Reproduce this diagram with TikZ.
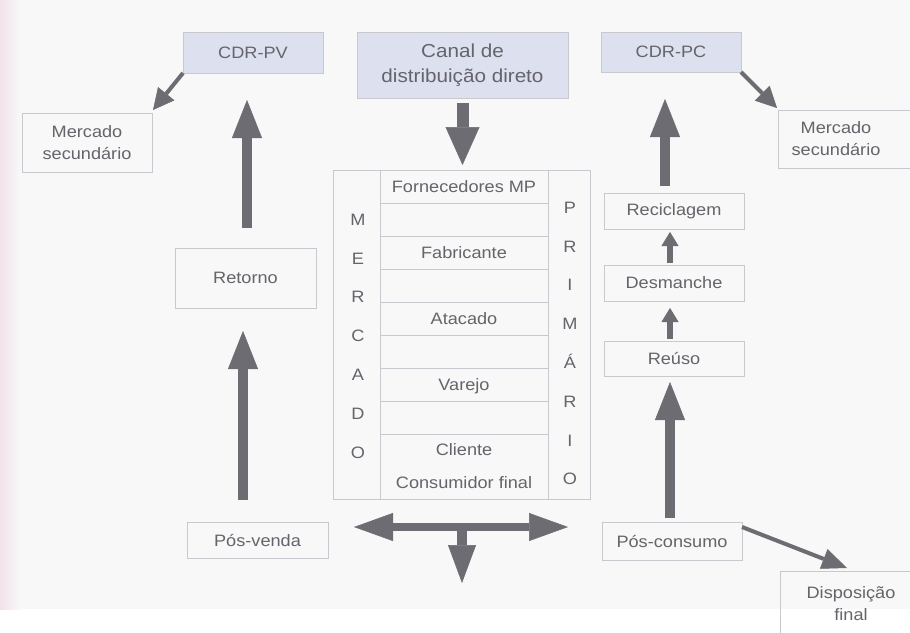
\documentclass[tikz,border=0pt]{standalone}
\usepackage{fontspec}
\setmainfont{Liberation Sans}[FakeStretch=1.1]
\usetikzlibrary{arrows.meta}

\definecolor{ink}{RGB}{100,100,106}
\definecolor{arrowgray}{RGB}{108,108,114}
\definecolor{frame}{RGB}{200,200,206}
\definecolor{topfill}{RGB}{221,224,239}
\definecolor{paper}{RGB}{248,248,248}
\definecolor{edgepink}{RGB}{242,226,233}

\begin{document}
\begin{tikzpicture}[x=1pt,y=-1pt,
  txt/.style={text=ink, font=\fontsize{16.5}{22}\selectfont, align=center, inner sep=0pt, outer sep=0pt},
  box/.style={txt, draw=frame, line width=0.9pt},
  topbox/.style={box, fill=topfill},
  cell/.style={box, minimum width=168pt, minimum height=33pt, anchor=north,
    text height=12pt, text depth=0pt},
  letters/.style={txt, font=\fontsize{16.5}{38.8}\selectfont, anchor=north},
  bigarrow/.style={draw=arrowgray, line width=10pt,
    -{Triangle[width=30pt,length=38pt,line width=0.5pt]}},
  smallarrow/.style={draw=arrowgray, line width=5.5pt,
    -{Triangle[width=17pt,length=14pt,line width=0.5pt]}},
  slimarrow/.style={draw=arrowgray, line width=4pt,
    -{Triangle[width=21pt,length=21pt,line width=0.5pt]}}
]
\useasboundingbox (0,0) rectangle (910,632);
\clip (0,0) rectangle (910,632);

% paper
\fill[paper] (0,0) rectangle (910,609);
\fill[white] (0,609) rectangle (910,632);
\shade[left color=edgepink, right color=paper] (0,0) rectangle (20,609);

% top row
\node[topbox, minimum width=140pt, minimum height=41pt] (cdrpv) at (253,52.5) {CDR-PV};
\node[topbox, minimum width=211pt, minimum height=66pt,
      font=\fontsize{18.8}{25}\selectfont] (canal) at (462.5,65) {Canal de\\distribuição direto};
\node[topbox, minimum width=140pt, minimum height=40pt] (cdrpc) at (671,52) {CDR-PC};

% secondary markets
\node[box, minimum width=130pt, minimum height=59pt] (msl) at (87,142.5) {Mercado\\secundário};
\node[txt, minimum width=116pt, minimum height=58pt] (msr) at (836,139) {Mercado\\secundário};
\draw[frame, line width=0.9pt] (msr.north west) rectangle ([xshift=20pt]msr.south east);

% post-sale side
\node[box, minimum width=141pt, minimum height=60pt] (retorno) at (245.5,278) {Retorno};
\node[box, minimum width=141pt, minimum height=36pt] (posvenda) at (257.5,540) {Pós-venda};

% post-consumption side
\node[box, minimum width=140pt, minimum height=36pt] (recic) at (674,211) {Reciclagem};
\node[box, minimum width=140pt, minimum height=36pt] (desm) at (674,283) {Desmanche};
\node[box, minimum width=140pt, minimum height=35pt] (reuso) at (674,358.5) {Reúso};
\node[box, minimum width=140pt, minimum height=38pt] (poscons) at (672,541) {Pós-consumo};
\node[box, minimum width=142pt, minimum height=66pt] (disp) at (851,604) {Disposição\\final};

% primary market table
\node[box, minimum width=47pt, minimum height=329pt] (leftcol) at (356.5,334.5) {};
\node[box, minimum width=42pt, minimum height=329pt] (rightcol) at (569,334.5) {};
\node[cell] (r1) at (464,170) {Fornecedores MP};
\node[cell] (r2) at (r1.south) {};
\node[cell] (r3) at (r2.south) {Fabricante};
\node[cell] (r4) at (r3.south) {};
\node[cell] (r5) at (r4.south) {Atacado};
\node[cell] (r6) at (r5.south) {};
\node[cell] (r7) at (r6.south) {Varejo};
\node[cell] (r8) at (r7.south) {};
\node[cell, minimum height=65pt, text height=, text depth=,
      font=\fontsize{16.5}{33}\selectfont] (r9) at (r8.south) {Cliente\\Consumidor final};
\node[letters] (mercado) at (358,214) {M\\E\\R\\C\\A\\D\\O};
\node[letters] (primario) at (570,202) {P\\R\\I\\M\\Á\\R\\I\\O};

% helper coordinates for the arrow columns
\coordinate (lx1) at (243,0);
\coordinate (lx2) at (247,0);
\coordinate (rx1) at (670,0);
\coordinate (rx2) at (665,0);
\coordinate (tl) at (354,527);
\coordinate (tr) at (568,527);
\coordinate (tm) at (462,527);
\coordinate (tb) at (462,583);

% flows
\draw[slimarrow] (cdrpv.south west) -- ([shift={(1,-3)}]msl.north east);
\draw[slimarrow] (cdrpc.south east) -- ([shift={(-1,-2)}]msr.north west);
\draw[draw=arrowgray, line width=12pt, -{Triangle[width=34pt,length=38pt,line width=0.5pt]},
      shorten <=5pt, shorten >=5pt] (canal.south) -- (canal.south |- r1.north);

\draw[bigarrow, shorten <=22pt, shorten >=23pt] (posvenda.north -| lx1) -- (retorno.south -| lx1);
\draw[bigarrow, shorten <=20pt, shorten >=27pt] (retorno.north -| lx2) -- (cdrpv.south -| lx2);

\draw[bigarrow, shorten <=4pt, shorten >=6pt] (poscons.north -| rx1) -- (reuso.south -| rx1);
\draw[smallarrow, shorten <=2pt, shorten >=7pt] (reuso.north -| rx1) -- (desm.south -| rx1);
\draw[smallarrow, shorten <=2pt, shorten >=3pt] (desm.north -| rx1) -- (recic.south -| rx1);
\draw[bigarrow, shorten <=7pt, shorten >=27pt] (recic.north -| rx2) -- (cdrpc.south -| rx2);

\draw[draw=arrowgray, line width=4pt, -{Triangle[width=21pt,length=25pt,line width=0.5pt]}]
      ([yshift=-5pt]poscons.north east) -- ([shift={(-4,-3)}]disp.north);

% outflow of the primary channel
\draw[draw=arrowgray, line width=8.5pt,
      {Triangle[width=28pt,length=39pt,line width=0.5pt]}-{Triangle[width=28pt,length=39pt,line width=0.5pt]}]
      (tl) -- (tr);
\draw[draw=arrowgray, line width=10pt, -{Triangle[width=28pt,length=38pt,line width=0.5pt]}]
      (tm) -- (tb);
\end{tikzpicture}
\end{document}
